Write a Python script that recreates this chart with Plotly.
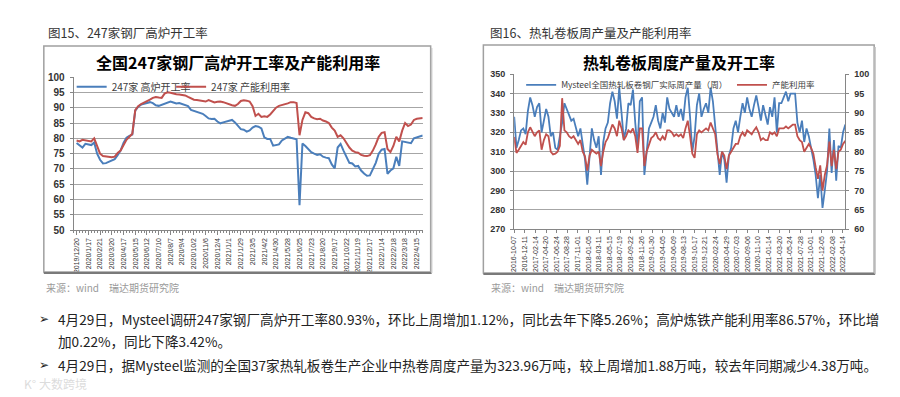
import plotly.graph_objects as go
import pandas as pd

# ---------------- Chart 1 data: 247家钢厂 (weekly, 2019/12/20 - 2022/4/29) ----------------
bf_rate = [
    78.5, 77.6, 77.0, 78.2, 78.0, 77.8, 78.6, 75.0, 73.0, 71.8,
    71.9, 72.3, 72.6, 73.2, 74.5, 76.0, 78.5, 80.2, 80.8, 81.2,
    89.0, 90.3, 91.0, 91.3, 91.6, 91.8, 91.5, 90.8, 90.6, 91.0,
    91.2, 91.6, 92.0, 91.7, 91.4, 91.5, 91.2, 90.9, 90.5, 89.3,
    89.0, 88.7, 88.2, 88.0, 87.3, 86.5, 86.3, 86.4, 85.5, 84.9,
    85.2, 85.4, 85.8, 86.0, 85.2, 84.0, 83.0, 82.8, 82.2, 82.6,
    83.5, 84.0, 83.8, 83.2, 80.3, 79.8, 79.8, 77.6, 77.8, 78.0,
    79.3, 80.0, 80.5, 80.2, 80.0, 79.7, 58.2, 78.3, 77.5, 76.5,
    75.5, 75.0, 74.6, 74.8, 74.0, 73.7, 73.5, 71.5, 70.2, 77.0,
    78.2, 76.0, 74.0, 72.0, 71.8, 70.8, 71.0, 69.5, 68.5, 67.8,
    67.9, 69.8, 72.0, 75.0, 76.3, 76.5, 68.4, 69.5, 70.2, 74.0,
    71.0, 79.0, 78.8, 78.5, 78.4, 80.0, 80.3, 80.5, 80.9,
]
cap_util = [
    79.3, 79.0, 79.5, 79.4, 79.2, 79.0, 80.0, 77.5, 75.0, 74.2,
    74.0, 73.9, 73.8, 74.0, 75.2, 76.0, 78.0, 79.5, 80.5, 81.5,
    89.2, 90.5, 91.2, 91.6, 92.0, 92.6, 93.2, 93.5, 93.3, 93.2,
    94.6, 95.0, 94.9, 94.6, 94.4, 94.3, 94.2, 94.0, 93.5, 93.0,
    92.6, 92.5, 92.3, 92.2, 92.0, 92.5, 92.0, 91.7, 91.9, 92.0,
    91.8, 91.4, 91.2, 90.8, 90.6, 91.2, 92.2, 92.4, 92.3, 92.0,
    90.5, 87.3, 88.0, 87.0, 87.2, 87.0, 87.8, 88.8, 90.0, 90.6,
    90.8, 91.0, 91.4, 91.8, 91.8, 91.5, 81.0, 86.0, 88.5, 88.2,
    87.0, 86.5, 86.2, 86.4, 85.8, 85.5, 85.0, 83.5, 82.5, 80.5,
    81.0, 80.0, 78.5, 77.0, 76.0, 75.5, 75.3, 74.6, 74.3, 74.2,
    74.5, 76.0, 78.0, 80.5, 81.8, 82.0, 76.5, 75.5, 77.5, 80.5,
    79.0, 82.5, 85.0, 84.0, 84.5, 86.0, 86.4, 86.6, 86.6,
]
c1_ticklabels = [
    "2019/12/20", "2020/1/17", "2020/2/21", "2020/3/20", "2020/4/17", "2020/5/15",
    "2020/6/12", "2020/7/10", "2020/8/7", "2020/9/4", "2020/10/2", "2020/11/6",
    "2020/12/4", "2021/1/1", "2021/1/29", "2021/3/5", "2021/4/2", "2021/4/30",
    "2021/5/28", "2021/6/25", "2021/7/23", "2021/8/20", "2021/9/17", "2021/10/22",
    "2021/11/19", "2021/12/17", "2022/1/14", "2022/2/18", "2022/3/18", "2022/4/15",
]

# ---------------- Chart 2 data: 热轧卷板 (bi-weekly, 2016-10-07 - 2022-04-29) ----------------
hrc_output = [
    328, 312, 316, 321, 322, 319, 331, 338, 334, 328,
    333, 335, 320, 326, 332, 328, 318, 320, 312, 311,
    318, 325, 335, 332, 328, 326, 327, 322, 318, 322,
    313, 306, 293, 310, 322, 316, 312, 318, 298, 315,
    322, 325, 335, 341, 336, 327, 343, 330, 316, 322,
    335, 334, 342, 325, 312, 336, 338, 298, 312, 322,
    325, 328, 334, 326, 322, 330, 325, 338, 332, 330,
    328, 334, 328, 332, 326, 338, 343, 328, 310, 318,
    334, 340, 328, 332, 335, 330, 343, 336, 322, 310,
    298, 310, 306, 294, 308, 312, 322, 326, 320, 328,
    335, 330, 338, 332, 328, 334, 339, 333, 326, 334,
    328, 324, 333, 328, 338, 320, 335, 335, 338, 341,
    336, 340, 340, 340, 325, 320, 326, 315, 322, 318,
    312, 306, 298, 286, 298, 281, 290, 300, 322, 299,
    316, 295, 313, 312, 320, 324,
]
hrc_util = [
    83.8, 79.7, 80.5, 81.5, 82.5, 81.8, 85.0, 86.3, 85.0, 84.0,
    85.0, 85.5, 80.5, 83.0, 84.5, 84.0, 80.0, 79.3, 79.5, 80.0,
    81.5, 93.8, 85.5, 85.0, 84.0, 83.5, 84.0, 83.0, 82.0, 83.0,
    80.0, 78.8, 75.1, 79.0, 80.5, 80.0, 79.5, 80.0, 76.3, 80.0,
    82.5, 83.5, 85.5, 87.0, 86.0, 84.0, 88.0, 86.0, 83.0, 84.0,
    85.5, 85.0, 86.0, 84.0, 79.7, 86.0, 86.0, 76.3, 80.0, 82.0,
    83.5, 84.0, 85.0, 83.5, 83.0, 84.0, 83.0, 85.5, 85.5, 85.0,
    84.0, 84.5, 84.0, 84.5, 83.5, 86.0, 88.0, 84.0, 79.5, 78.4,
    84.5, 85.5, 85.0, 85.5, 86.0, 85.5, 87.5, 86.0, 84.6, 79.3,
    76.8, 80.0, 79.0, 75.5, 79.0, 80.0, 81.0, 82.0, 82.0, 84.0,
    85.0, 84.0, 85.5, 85.0, 84.5, 85.5, 86.3, 85.0, 83.0, 83.5,
    83.0, 83.0, 85.0, 84.5, 85.0, 84.0, 86.0, 86.0, 86.0, 86.5,
    86.0, 86.5, 87.0, 87.0, 84.0, 83.0, 82.5, 80.0, 81.0, 82.0,
    81.0, 79.5, 76.0, 73.0, 76.5, 70.0, 74.0, 76.5, 82.6, 76.3,
    80.5, 75.5, 80.0, 80.5, 82.0, 82.8,
]
c2_tickdates = [
    "2016-10-07", "2016-12-11", "2017-02-14", "2017-04-20", "2017-06-24", "2017-08-28",
    "2017-11-01", "2018-01-05", "2018-03-11", "2018-05-15", "2018-07-19", "2018-09-22",
    "2018-11-26", "2019-01-30", "2019-04-05", "2019-06-09", "2019-08-13", "2019-10-17",
    "2019-12-21", "2020-02-24", "2020-04-29", "2020-07-03", "2020-09-06", "2020-11-10",
    "2021-01-14", "2021-03-20", "2021-05-24", "2021-07-28", "2021-10-01", "2021-12-05",
    "2022-02-08", "2022-04-14",
]

W, H = 900, 397
BLUE = "#4a7ebb"
RED = "#c0504d"
GRID = "#a6a6a6"
AXIS = "#868686"
CJK = "Noto Sans CJK SC, Liberation Sans, sans-serif"
NUM = "Liberation Sans, Arial, sans-serif"


def px(x):
    return x / W


def py(y):
    return 1 - y / H


fig = go.Figure()
x1 = list(range(len(bf_rate)))
fig.add_trace(go.Scatter(x=x1, y=bf_rate, name="247家 高炉开工率", mode="lines",
                         line=dict(color=BLUE, width=2), xaxis="x", yaxis="y", legend="legend"))
fig.add_trace(go.Scatter(x=x1, y=cap_util, name="247家 产能利用率", mode="lines",
                         line=dict(color=RED, width=2), xaxis="x", yaxis="y", legend="legend2"))

dates2 = pd.date_range("2016-10-07", periods=len(hrc_output), freq="14D")
fig.add_trace(go.Scatter(x=dates2, y=hrc_output, name="Mysteel全国热轧板卷钢厂实际周产量（周）",
                         mode="lines", line=dict(color=BLUE, width=1.8), xaxis="x2", yaxis="y2",
                         legend="legend3"))
fig.add_trace(go.Scatter(x=dates2, y=hrc_util, name="产能利用率", mode="lines",
                         line=dict(color=RED, width=1.8), xaxis="x2", yaxis="y3", legend="legend4"))

tickfont_small = dict(family=NUM, size=7, color="#333333")
yfont = dict(family=NUM, size=10, color="#333333", weight="bold")

fig.update_layout(
    width=W, height=H,
    margin=dict(l=0, r=0, t=0, b=0),
    paper_bgcolor="white", plot_bgcolor="rgba(0,0,0,0)",
    xaxis=dict(domain=[px(62), px(413)], range=[-1, 118], anchor="y",
               tickmode="array", tickvals=list(range(0, 4 * len(c1_ticklabels), 4)),
               ticktext=c1_ticklabels, tickangle=-90, tickfont=tickfont_small,
               showline=True, linecolor=AXIS, linewidth=1, ticks="outside", ticklen=4,
               tickcolor=AXIS, showgrid=False, zeroline=False,
               minor=dict(ticks="outside", ticklen=2, dtick=1, tick0=0, tickcolor=AXIS,
                          showgrid=False)),
    yaxis=dict(domain=[py(223), py(65)], range=[50, 100], dtick=5, anchor="x",
               showgrid=True, gridcolor=GRID, gridwidth=1, showline=True, linecolor=AXIS,
               ticks="outside", ticklen=3, tickcolor=AXIS, tickfont=yfont, zeroline=False,
               ticklabelstandoff=3),
    xaxis2=dict(domain=[px(505), px(838)], type="date", range=["2016-10-07", "2022-04-29"],
                anchor="y2", tickmode="array", tickvals=c2_tickdates, ticktext=c2_tickdates,
                tickangle=-90, tickfont=tickfont_small, showline=True, linecolor=AXIS,
                ticks="outside", ticklen=3, tickcolor=AXIS, showgrid=False, zeroline=False),
    yaxis2=dict(domain=[py(222), py(62)], range=[270, 350], dtick=10, anchor="x2",
                showgrid=True, gridcolor=GRID, showline=True, linecolor=AXIS,
                ticks="outside", ticklen=3, tickcolor=AXIS,
                tickfont=dict(family=NUM, size=9, color="#333333", weight="bold"),
                zeroline=False, ticklabelstandoff=3),
    yaxis3=dict(overlaying="y2", side="right", range=[60, 100], dtick=5, anchor="x2",
                showgrid=False, showline=True, linecolor=AXIS, ticks="outside", ticklen=3,
                tickcolor=AXIS, tickfont=dict(family=NUM, size=9, color="#333333", weight="bold"),
                zeroline=False, ticklabelstandoff=3),
    legend=dict(x=px(60), y=py(75), xanchor="left", yanchor="middle", orientation="h",
                font=dict(family=CJK, size=10, color="#404040"), bgcolor="rgba(0,0,0,0)"),
    legend2=dict(x=px(160), y=py(75), xanchor="left", yanchor="middle", orientation="h",
                 font=dict(family=CJK, size=10, color="#404040"), bgcolor="rgba(0,0,0,0)"),
    legend3=dict(x=px(512), y=py(73), xanchor="left", yanchor="middle", orientation="h",
                 font=dict(family=CJK, size=8.5, color="#404040"), bgcolor="rgba(0,0,0,0)"),
    legend4=dict(x=px(724), y=py(73), xanchor="left", yanchor="middle", orientation="h",
                 font=dict(family=CJK, size=8.5, color="#404040"), bgcolor="rgba(0,0,0,0)"),
    showlegend=True,
)

# chart frames
for (x0, x1_, y0, y1) in [(32, 421, 33, 266), (474, 867, 32, 267)]:
    fig.add_shape(type="rect", xref="paper", yref="paper", x0=px(x0), x1=px(x1_),
                  y0=py(y1), y1=py(y0), line=dict(color="#a0a0a0", width=1.5))
    fig.add_shape(type="line", xref="paper", yref="paper", x0=px(x0), x1=px(x1_ + 1),
                  y0=py(y1 + 1), y1=py(y1 + 1), line=dict(color="#7a7a7a", width=2))
    fig.add_shape(type="line", xref="paper", yref="paper", x0=px(x1_ + 1), x1=px(x1_ + 1),
                  y0=py(y1 + 1), y1=py(y0 + 2), line=dict(color="#c8c8c8", width=1.5))


def note(x, y, text, size, color="#333333", bold=False, anchor="left", family=CJK):
    fig.add_annotation(xref="paper", yref="paper", x=px(x), y=py(y), text=text,
                       showarrow=False, xanchor=anchor, yanchor="middle",
                       font=dict(family=family, size=size, color=color,
                                 weight="bold" if bold else "normal"))


note(34, 19, "图15、247家钢厂高炉开工率", 12.5, "#333333")
note(479, 19, "图16、热轧卷板周产量及产能利用率", 12.5, "#333333")
note(227, 50, "全国247家钢厂高炉开工率及产能利用率", 16, "#000000", bold=True, anchor="center")
note(671, 50, "热轧卷板周度产量及开工率", 16, "#000000", bold=True, anchor="center")
note(32, 282, "来源：wind　瑞达期货研究院", 10, "#9a9a9a")
note(480, 282, "来源：wind　瑞达期货研究院", 10, "#9a9a9a")

note(25, 315, "➢", 12, "#222222", family="DejaVu Sans")
note(44, 315, "4月29日，Mysteel调研247家钢厂高炉开工率80.93%，环比上周增加1.12%，同比去年下降5.26%；高炉炼铁产能利用率86.57%，环比增",
     13.6, "#222222")
note(44, 337, "加0.22%，同比下降3.42%。", 13.6, "#222222")
note(25, 362, "➢", 12, "#222222", family="DejaVu Sans")
note(44, 362, "4月29日，据Mysteel监测的全国37家热轧板卷生产企业中热卷周度产量为323.96万吨，较上周增加1.88万吨，较去年同期减少4.38万吨。",
     13.6, "#222222")
note(10, 381, "K° 大数跨境", 12, "rgba(190,190,190,0.55)")

fig.write_html("out.html")
